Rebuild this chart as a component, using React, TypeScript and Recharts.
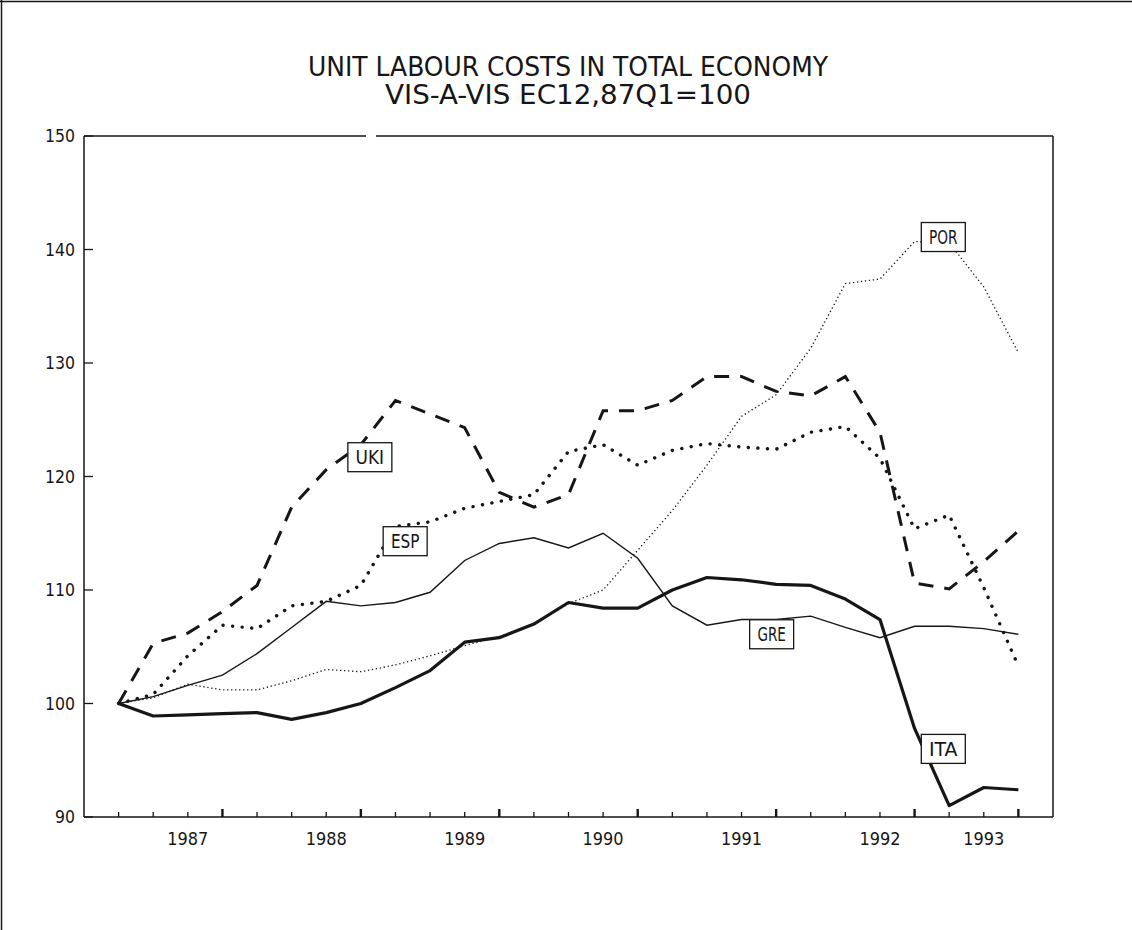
import React from 'react';
import { LineChart, Line, XAxis, YAxis, ReferenceDot, ReferenceLine } from 'recharts';

// quarterly observations, 87Q1 = 100
const quarters = [
  '87Q1', '87Q2', '87Q3', '87Q4', '88Q1', '88Q2', '88Q3', '88Q4', '89Q1', '89Q2', '89Q3', '89Q4',
  '90Q1', '90Q2', '90Q3', '90Q4', '91Q1', '91Q2', '91Q3', '91Q4', '92Q1', '92Q2', '92Q3', '92Q4',
  '93Q1', '93Q2', '93Q3',
];

const ITA = [100, 98.9, 99.0, 99.1, 99.2, 98.6, 99.2, 100.0, 101.4, 102.9, 105.4, 105.8, 107.0, 108.9,
  108.4, 108.4, 110.0, 111.1, 110.9, 110.5, 110.4, 109.2, 107.4, 97.8, 91.0, 92.6, 92.4];
const GRE = [100, 100.6, 101.6, 102.5, 104.4, 106.7, 109.0, 108.6, 108.9, 109.8, 112.6, 114.1, 114.6, 113.7,
  115.0, 112.8, 108.6, 106.9, 107.4, 107.4, 107.7, 106.7, 105.8, 106.8, 106.8, 106.6, 106.1];
const UKI = [100, 105.3, 106.2, 108.1, 110.4, 117.3, 120.6, 122.8, 126.7, 125.5, 124.3, 118.6, 117.3, 118.4,
  125.8, 125.8, 126.7, 128.8, 128.8, 127.5, 127.1, 128.8, 123.9, 110.6, 110.1, 112.5, 115.2];
const ESP = [100, 100.8, 104.2, 106.9, 106.6, 108.6, 109.0, 110.4, 115.6, 116.0, 117.2, 117.8, 118.4, 122.2,
  122.8, 121.0, 122.3, 122.9, 122.6, 122.4, 123.9, 124.4, 121.6, 115.4, 116.6, 110.2, 103.3];
const POR = [100, 100.5, 101.7, 101.2, 101.2, 102.0, 103.0, 102.8, 103.4, 104.2, 105.1, 105.9, 107.0, 108.8,
  110.0, 113.5, 117.0, 121.0, 125.3, 127.2, 131.3, 137.0, 137.4, 140.7, 140.6, 136.7, 130.9];

const yTicks = [90, 100, 110, 120, 130, 140, 150];
const yearLabels = ['1987', '1988', '1989', '1990', '1991', '1992', '1993'];
const yearLabelQuarters = ['87Q3', '88Q3', '89Q3', '90Q3', '91Q3', '92Q3', '93Q2'];
const majorTickQuarters = ['87Q4', '88Q4', '89Q4', '90Q4', '91Q4', '92Q4', '93Q3'];

// series name boxes, placed in data units (quarter index, index value)
const boxNames = ['UKI', 'ESP', 'GRE', 'POR', 'ITA'];
const boxAt = [7.26, 8.28, 18.87, 23.83, 23.83];
const boxValue = [121.7, 114.3, 106.1, 141.1, 96.0];

const data = quarters.map((q, i) => ({
  i, q, ITA: ITA[i], GRE: GRE[i], UKI: UKI[i], ESP: ESP[i], POR: POR[i],
}));

const W = 1132;
const H = 930;
const PL = 84;
const PR = 1053;
const PB = 817;
const INK = '#161616';
const FONT = "'Liberation Sans Narrow', 'DejaVu Sans Condensed', 'DejaVu Sans', sans-serif";

const LeftTick = ({ y, payload }: any) => (
  <g>
    <line x1={PL} x2={PL + 9} y1={y} y2={y} stroke={INK} strokeWidth={1.3} />
    <text x={75} y={y + 6} textAnchor="end" fontFamily={FONT} fontSize={18} fill={INK}
      textLength={String(payload.value).length * 10} lengthAdjust="spacingAndGlyphs">
      {payload.value}
    </text>
  </g>
);

const RightTick = ({ y, payload }: any) => (
  <g>
    <line x1={PR - 9} x2={PR} y1={y} y2={y} stroke={INK} strokeWidth={1.3} />
    <text x={1066} y={y + 6} textAnchor="start" fontFamily={FONT} fontSize={18} fill={INK}
      textLength={String(payload.value).length * 10} lengthAdjust="spacingAndGlyphs">
      {payload.value}
    </text>
  </g>
);

const XTick = ({ x, payload }: any) => {
  const q = quarters[payload.value];
  const major = majorTickQuarters.includes(q);
  const li = yearLabelQuarters.indexOf(q);
  return (
    <g>
      <line x1={x} x2={x} y1={PB} y2={PB - (major ? 8 : 5)} stroke={INK} strokeWidth={major ? 2.4 : 1.3} />
      {li >= 0 && (
        <text x={x} y={PB + 28} textAnchor="middle" fontFamily={FONT} fontSize={18} fill={INK}
          textLength={41} lengthAdjust="spacingAndGlyphs">
          {yearLabels[li]}
        </text>
      )}
    </g>
  );
};

const NameBox = ({ cx, cy, name }: any) => (
  <g>
    <rect x={cx - 22} y={cy - 14.5} width={44} height={29} fill="#fff" stroke={INK} strokeWidth={1.3} />
    <text x={cx} y={cy + 7} textAnchor="middle" fontFamily={FONT} fontSize={19} fill={INK}
      textLength={name.length * 9.5} lengthAdjust="spacingAndGlyphs">
      {name}
    </text>
  </g>
);

export default function App() {
  return (
    <div style={{ position: 'absolute', left: 0, top: 0, width: W, height: H, background: '#fff' }}>
      <LineChart width={W} height={H} data={data} margin={{ top: 136, right: 0, bottom: 73, left: 0 }}>
        <XAxis xAxisId="b" dataKey="i" type="number" domain={[-1, 27]} ticks={quarters.map((_, i) => i)}
          interval={0} height={40} tickLine={false} axisLine={{ stroke: INK, strokeWidth: 1.5 }} tick={<XTick />} />
        <YAxis yAxisId="l" domain={[90, 150]} ticks={yTicks} width={84} tickLine={false}
          axisLine={{ stroke: INK, strokeWidth: 1.5 }} tick={<LeftTick />} />
        <YAxis yAxisId="r" orientation="right" domain={[90, 150]} ticks={yTicks} width={79} tickLine={false}
          axisLine={{ stroke: INK, strokeWidth: 1.5 }} tick={<RightTick />} />

        {/* top frame of the plot, with the small break the plotter left in it */}
        <ReferenceLine xAxisId="b" yAxisId="l" y={150} stroke={INK} strokeWidth={1.3} strokeDasharray="282 10 2000" />

        <Line xAxisId="b" yAxisId="l" dataKey="POR" type="linear" dot={false} isAnimationActive={false}
          stroke={INK} strokeWidth={1.3} strokeDasharray="1.3 2.7" />
        <Line xAxisId="b" yAxisId="l" dataKey="GRE" type="linear" dot={false} isAnimationActive={false}
          stroke={INK} strokeWidth={1.4} />
        <Line xAxisId="b" yAxisId="l" dataKey="ESP" type="linear" dot={false} isAnimationActive={false}
          stroke={INK} strokeWidth={3.4} strokeDasharray="0.1 9.5" strokeLinecap="round" />
        <Line xAxisId="b" yAxisId="l" dataKey="UKI" type="linear" dot={false} isAnimationActive={false}
          stroke={INK} strokeWidth={3} strokeDasharray="15 11" />
        <Line xAxisId="b" yAxisId="l" dataKey="ITA" type="linear" dot={false} isAnimationActive={false}
          stroke={INK} strokeWidth={3.2} strokeLinejoin="round" />

        {boxNames.map((n, k) => (
          <ReferenceDot key={n} xAxisId="b" yAxisId="l" x={boxAt[k]} y={boxValue[k]} r={0}
            shape={(p: any) => <NameBox cx={p.cx} cy={p.cy} name={n} />} />
        ))}
      </LineChart>

      <svg width={W} height={H} style={{ position: 'absolute', left: 0, top: 0, pointerEvents: 'none' }}>
        <line x1={0} x2={W} y1={1.5} y2={1.5} stroke={INK} strokeWidth={1.5} />
        <line x1={1.5} x2={1.5} y1={0} y2={H} stroke={INK} strokeWidth={1.5} />
        <text x={568} y={76} textAnchor="middle" fontFamily={FONT} fontSize={26} fontWeight={200} fill={INK}
          textLength={520} lengthAdjust="spacingAndGlyphs">
          UNIT LABOUR COSTS IN TOTAL ECONOMY
        </text>
        <text x={568} y={104} textAnchor="middle" fontFamily={FONT} fontSize={26} fontWeight={200} fill={INK}
          textLength={366} lengthAdjust="spacingAndGlyphs">
          VIS-A-VIS EC12,87Q1=100
        </text>
      </svg>
    </div>
  );
}
